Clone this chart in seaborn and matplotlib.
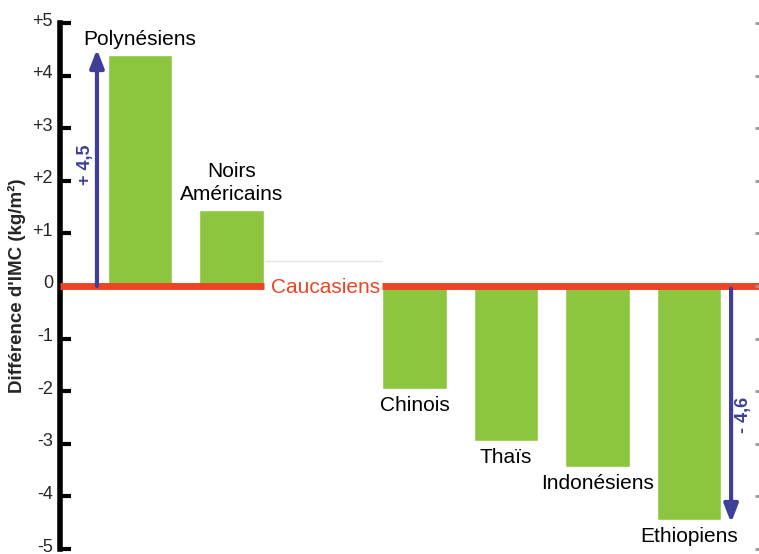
import matplotlib
matplotlib.use("Agg")
import matplotlib.pyplot as plt
import matplotlib.transforms as mtransforms
import seaborn as sns
import pandas as pd

categories = ["Polynésiens", "Noirs\nAméricains", "Caucasiens", "Chinois", "Thaïs", "Indonésiens", "Ethiopiens"]
values = [4.4, 1.45, 0.0, -1.95, -2.95, -3.45, -4.45]
tick_values = [5, 4, 3, 2, 1, 0, -1, -2, -3, -4, -5]
tick_labels = ["+5", "+4", "+3", "+2", "+1", "0", "-1", "-2", "-3", "-4", "-5"]
arrow_up_label = "+ 4,5"
arrow_down_label = "- 4,6"
arrow_up_value = 4.5
arrow_down_value = -4.5
ylabel = "Différence d'IMC (kg/m²)"

GREEN = "#8CC63F"
RED = "#EE4426"
BLUE = "#3D3F98"
BAR_W = 0.70

sns.set_theme(style="white")
plt.rcParams["font.family"] = ["Liberation Sans", "DejaVu Sans"]

df = pd.DataFrame({"cat": categories, "val": values})

fig = plt.figure(figsize=(7.59, 5.54), dpi=100)
ax = fig.add_axes([60 / 759, 5 / 554, 1 - 60 / 759, 526 / 554])

sns.barplot(data=df, x="cat", y="val", color=GREEN, width=BAR_W, saturation=1,
            ax=ax, zorder=2)

ax.set_xlim(-0.874, 6.765)
ax.set_ylim(-5, 5)

# reference line (Caucasiens)
ax.plot([-0.874, 1 + BAR_W / 2], [0, 0], color=RED, lw=5, zorder=3, solid_capstyle="butt")
ax.plot([3 - BAR_W / 2, 6.765], [0, 0], color=RED, lw=5, zorder=3, solid_capstyle="butt")
ax.plot([1 + BAR_W / 2, 3 - BAR_W / 2], [0.48, 0.48], color="#e3e3e3", lw=1, zorder=1)
ax.text(2.03, -0.02, "Caucasiens", color=RED, fontsize=15, ha="center", va="center")

# category labels
for i, (c, v) in enumerate(zip(categories, values)):
    if v > 0:
        ax.annotate(c, (i, v), xytext=(0, 4), textcoords="offset points",
                    ha="center", va="bottom", fontsize=15, color="black",
                    linespacing=1.25)
    elif v < 0:
        ax.annotate(c, (i, v), xytext=(0, -5), textcoords="offset points",
                    ha="center", va="top", fontsize=15, color="black")

# arrows
ax.annotate("", xy=(-0.47, arrow_up_value), xytext=(-0.47, 0),
            arrowprops=dict(arrowstyle="-|>,head_width=0.35,head_length=0.9",
                            color=BLUE, lw=3, shrinkA=0, shrinkB=0), zorder=4)
ax.text(-0.6, 2.3, arrow_up_label, color=BLUE, fontsize=13, fontweight="bold",
        rotation=90, ha="center", va="center")
ax.annotate("", xy=(6.46, arrow_down_value), xytext=(6.46, -0.05),
            arrowprops=dict(arrowstyle="-|>,head_width=0.35,head_length=0.9",
                            color=BLUE, lw=3, shrinkA=0, shrinkB=0), zorder=4)
ax.text(6.6, -2.45, arrow_down_label, color=BLUE, fontsize=13, fontweight="bold",
        rotation=90, ha="center", va="center")

# axes styling
ax.set_xticks([])
ax.set_xlabel("")
ax.set_yticks(tick_values)
ax.set_yticklabels(tick_labels, fontsize=13)
ax.tick_params(axis="y", direction="in", length=8, width=3, color="black",
               left=True, right=False, pad=5)
for lab in ax.get_yticklabels():
    lab.set_transform(lab.get_transform() +
                      mtransforms.ScaledTranslation(0, 4 / 100, fig.dpi_scale_trans))
# small grey marks on the right edge
ax2 = ax.twinx()
ax2.set_ylim(ax.get_ylim())
ax2.set_yticks(tick_values)
ax2.set_yticklabels([])
ax2.tick_params(axis="y", direction="in", length=3, width=2, color="#9a9a9a", right=True)
for a in (ax, ax2):
    for side in ["top", "bottom", "right"]:
        a.spines[side].set_visible(False)
ax2.spines["left"].set_visible(False)
ax.spines["left"].set_linewidth(4)
ax.spines["left"].set_color("black")
ax.set_ylabel(ylabel, fontsize=13.5, fontweight="bold", labelpad=5)

fig.savefig("out.png", dpi=100)
